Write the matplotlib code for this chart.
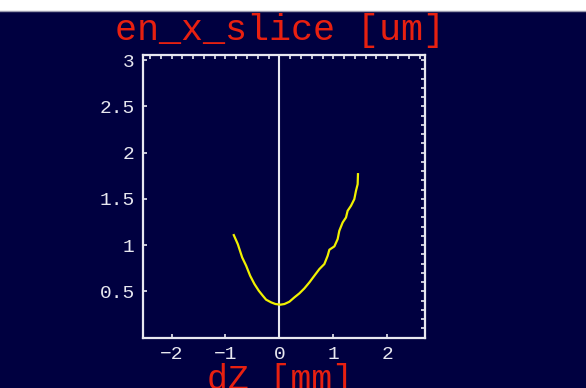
import matplotlib
matplotlib.use("Agg")
import matplotlib.pyplot as plt
from matplotlib.ticker import MultipleLocator, FixedLocator
from matplotlib.patches import Rectangle
from matplotlib.lines import Line2D

# en_x_slice scan along dZ
dz_mm = [-0.846, -0.772, -0.691, -0.617, -0.543, -0.463, -0.383, -0.309, -0.247,
         -0.154, -0.074, 0.019, 0.093, 0.185, 0.278, 0.370, 0.463, 0.556, 0.648,
         0.741, 0.833, 0.895, 0.926, 1.019, 1.080, 1.111, 1.173, 1.235, 1.265,
         1.327, 1.389, 1.420, 1.451, 1.457]
en_x_um = [1.107, 1.010, 0.866, 0.776, 0.668, 0.578, 0.506, 0.452, 0.409,
           0.380, 0.362, 0.355, 0.362, 0.387, 0.434, 0.477, 0.531, 0.596, 0.668,
           0.740, 0.794, 0.884, 0.949, 0.985, 1.064, 1.154, 1.244, 1.298, 1.370,
           1.424, 1.496, 1.586, 1.658, 1.766]

x_ticks = [-2, -1, 0, 1, 2]
x_tick_labels = ["\u22122", "\u22121", "0", "1", "2"]
y_ticks = [0.5, 1, 1.5, 2, 2.5, 3]
y_tick_labels = ["0.5", "1", "1.5", "2", "2.5", "3"]

title_text = "en_x_slice [um]"
xlabel_text = "dZ [mm]"

BG = "#000040"
FG = "#e8e8f0"
RED = "#e82010"
YEL = "#f0f000"
MONO = "Liberation Mono"

fig = plt.figure(figsize=(5.86, 3.88), dpi=100)
fig.patch.set_facecolor(BG)

# white band across the top edge
fig.patches.append(Rectangle((0, 1 - 10.5 / 388), 1, 10.5 / 388, transform=fig.transFigure,
                             facecolor="white", edgecolor="none", zorder=0))
fig.lines.append(Line2D([0, 1], [1 - 11 / 388, 1 - 11 / 388], transform=fig.transFigure,
                        color="#9a9ab0", lw=1.0))

ax = fig.add_axes([143 / 586, (388 - 337.5) / 388, (425 - 143) / 586, (337.5 - 54.5) / 388])
ax.set_facecolor(BG)

ax.axvline(0, color=FG, lw=1.5, zorder=2)
ax.plot(dz_mm, en_x_um, color=YEL, lw=1.6, zorder=3)

ax.set_xlim(-2.53, 2.70)
ax.set_ylim(0.0, 3.06)

for s in ax.spines.values():
    s.set_color(FG)
    s.set_linewidth(1.6)

ax.xaxis.set_major_locator(FixedLocator(x_ticks))
ax.set_xticklabels(x_tick_labels)
ax.yaxis.set_major_locator(FixedLocator(y_ticks))
ax.set_yticklabels(y_tick_labels)
ax.xaxis.set_minor_locator(MultipleLocator(0.2))
ax.yaxis.set_minor_locator(MultipleLocator(0.1))
ax.xaxis.remove_overlapping_locs = False
ax.yaxis.remove_overlapping_locs = False

ax.tick_params(which="major", direction="in", length=3, width=1.2, color=FG,
               bottom=True, left=True, top=False, right=False,
               labelcolor=FG, labelsize=14, pad=6)
ax.tick_params(which="minor", direction="in", length=3, width=1.2, color=FG,
               bottom=False, left=False, top=True, right=True)
for lab in ax.get_xticklabels() + ax.get_yticklabels():
    lab.set_fontfamily(MONO)

fig.text(280 / 586, 1 - 30 / 388, title_text, color=RED, fontsize=26.5, family=MONO,
         ha="center", va="center")
fig.text(280 / 586, 1 - 379 / 388, xlabel_text, color=RED, fontsize=25, family=MONO,
         ha="center", va="center")

fig.savefig("out.png", dpi=100, facecolor=BG)
